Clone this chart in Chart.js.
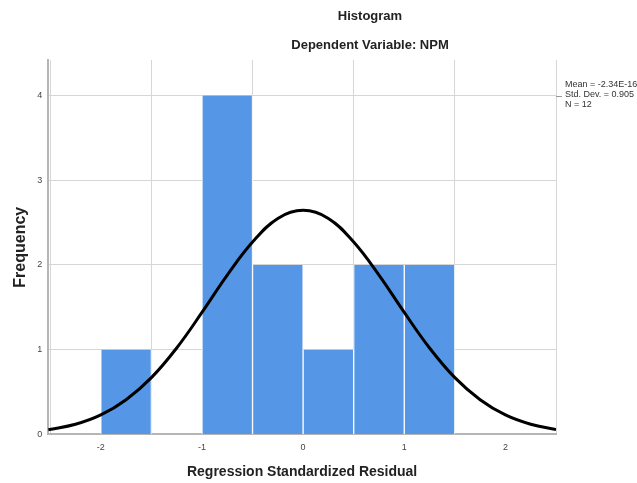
<!DOCTYPE html>
<html lang="en">
<head>
    <meta charset="UTF-8">
    <title>Histogram - Dependent Variable: NPM</title>
    <script src="https://cdn.jsdelivr.net/npm/chart.js"></script>
    <style>
        html, body { margin: 0; padding: 0; background: #ffffff; }
        #wrap { width: 637px; height: 483px; }
    </style>
</head>
<body>
<div id="wrap"><canvas id="hist"></canvas></div>
<script>
    // histogram bins (centre of each 0.5-wide bin) and counts
    const binCenters = [-1.75, -0.75, -0.25, 0.25, 0.75, 1.25];
    const binCounts = [1, 4, 2, 1, 2, 2];

    // normal curve
    const curveX = [-2.52, -2.25, -2.0, -1.75, -1.5, -1.25, -1.0, -0.75, -0.5, -0.25, 0,
                    0.25, 0.5, 0.75, 1.0, 1.25, 1.5, 1.75, 2.0, 2.25, 2.5];
    const curveY = [0.055, 0.12, 0.23, 0.41, 0.67, 1.02, 1.44, 1.88, 2.27, 2.55, 2.645,
                    2.55, 2.27, 1.88, 1.44, 1.02, 0.67, 0.41, 0.23, 0.12, 0.058];

    const xTicks = [-2, -1, 0, 1, 2];
    const yTicks = [0, 1, 2, 3, 4];
    const statLines = ["Mean = -2.34E-16", "Std. Dev. = 0.905", "N = 12"];

    const labelsPlugin = {
        id: 'spssText',
        afterDraw(chart) {
            const ctx = chart.ctx;
            ctx.save();
            ctx.fillStyle = '#222';
            ctx.textAlign = 'center';
            ctx.textBaseline = 'middle';
            ctx.font = 'bold 13px "Liberation Sans", Arial, sans-serif';
            ctx.fillText('Histogram', 370, 16);
            ctx.fillText('Dependent Variable: NPM', 370, 45);

            ctx.font = '9px "Liberation Sans", Arial, sans-serif';
            ctx.textAlign = 'left';
            ctx.fillStyle = '#333';
            statLines.forEach((t, i) => ctx.fillText(t, 565, 85 + i * 10));
            ctx.strokeStyle = '#999';
            ctx.lineWidth = 1;
            ctx.beginPath();
            ctx.moveTo(556, 96.5);
            ctx.lineTo(562, 96.5);
            ctx.stroke();
            ctx.restore();
        }
    };

    new Chart(document.getElementById('hist'), {
        type: 'bar',
        data: {
            datasets: [{
                type: 'line',
                data: curveX.map((x, i) => ({x: x, y: curveY[i]})),
                borderColor: '#000',
                borderWidth: 3,
                pointRadius: 0,
                tension: 0.4,
                fill: false,
                order: 0
            }, {
                type: 'bar',
                data: binCenters.map((x, i) => ({x: x, y: binCounts[i]})),
                backgroundColor: '#5596e6',
                borderColor: '#ffffff',
                borderWidth: {left: 1, right: 1, top: 0, bottom: 0},
                borderSkipped: false,
                barPercentage: 1,
                categoryPercentage: 1,
                order: 1
            }]
        },
        options: {
            responsive: true,
            maintainAspectRatio: false,
            animation: false,
            layout: { padding: {top: 60, right: 81, bottom: 2, left: 11} },
            plugins: {
                legend: { display: false },
                tooltip: { enabled: false }
            },
            scales: {
                x: {
                    type: 'linear',
                    min: -2.52,
                    max: 2.5,
                    offset: false,
                    afterBuildTicks: (s) => { s.ticks = xTicks.map(v => ({value: v})); },
                    grid: { color: '#d6d6d6', drawTicks: false },
                    border: { color: '#b5b5b5', width: 2 },
                    ticks: { color: '#444', font: {size: 9, family: 'Liberation Sans'}, padding: 8 },
                    title: {
                        display: true,
                        text: 'Regression Standardized Residual',
                        color: '#222',
                        font: {size: 14, weight: 'bold', family: 'Liberation Sans'},
                        padding: {top: 3, bottom: 0}
                    }
                },
                y: {
                    min: 0,
                    max: 4.42,
                    afterBuildTicks: (s) => { s.ticks = yTicks.map(v => ({value: v})); },
                    grid: { color: '#d6d6d6', drawTicks: false },
                    border: { color: '#b5b5b5', width: 2 },
                    ticks: { color: '#444', font: {size: 9, family: 'Liberation Sans'}, padding: 6 },
                    title: {
                        display: true,
                        text: 'Frequency',
                        color: '#222',
                        font: {size: 16, weight: 'bold', family: 'Liberation Sans'},
                        padding: {top: 0, bottom: 1}
                    }
                }
            }
        },
        plugins: [labelsPlugin]
    });
</script>
</body>
</html>
